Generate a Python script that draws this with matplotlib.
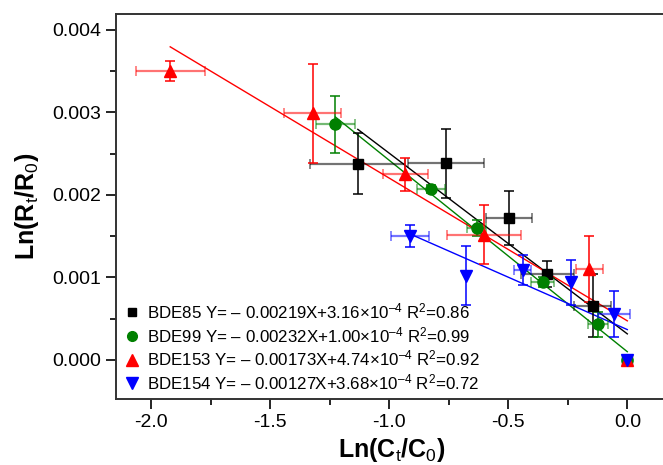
import numpy as np
import matplotlib
matplotlib.use('Agg')
import matplotlib.pyplot as plt
from matplotlib.lines import Line2D
from matplotlib.ticker import MultipleLocator

plt.rcParams['font.family'] = ['Liberation Sans', 'DejaVu Sans']
plt.rcParams['mathtext.fontset'] = 'custom'
plt.rcParams['mathtext.rm'] = 'Liberation Sans'
plt.rcParams['mathtext.it'] = 'Liberation Sans'
plt.rcParams['mathtext.bf'] = 'Liberation Sans:bold'

# data
names = ['BDE85', 'BDE99', 'BDE153', 'BDE154']
slopes = [0.00219, 0.00232, 0.00173, 0.00127]
intercepts = [3.16e-4, 1.00e-4, 4.74e-4, 3.68e-4]
r2 = [0.86, 0.99, 0.92, 0.72]

x85 = [-1.132, -0.761, -0.497, -0.336, -0.145, 0.0]
y85 = [0.00238, 0.002385, 0.00172, 0.00104, 0.000656, 0.0]
xe85 = [0.2, 0.16, 0.095, 0.11, 0.078, 0.0]
ye85 = [0.00037, 0.00042, 0.00033, 0.00016, 0.00038, 0.0]

x99 = [-1.226, -0.824, -0.633, -0.356, -0.125, 0.0]
y99 = [0.002855, 0.00207, 0.0016, 0.00094, 0.000434, 0.0]
xe99 = [0.083, 0.058, 0.04, 0.05, 0.042, 0.0]
ye99 = [0.00035, 0.00005, 0.0001, 0.00006, 0.00015, 0.0]

x153 = [-1.92, -1.322, -0.932, -0.602, -0.159, 0.0]
y153 = [0.0035, 0.00299, 0.00225, 0.00152, 0.0011, 0.0]
xe153 = [0.145, 0.12, 0.095, 0.155, 0.055, 0.0]
ye153 = [0.00012, 0.0006, 0.0002, 0.00036, 0.0004, 0.0]

x154 = [-0.914, -0.676, -0.44, -0.236, -0.056, 0.0]
y154 = [0.0015, 0.00102, 0.00109, 0.00094, 0.00056, 0.0]
xe154 = [0.08, 0.0, 0.035, 0.0, 0.066, 0.0]
ye154 = [0.00013, 0.00036, 0.00018, 0.00027, 0.00028, 0.0]

xs = [x85, x99, x153, x154]
ys = [y85, y99, y153, y154]
xes = [xe85, xe99, xe153, xe154]
yes = [ye85, ye99, ye153, ye154]
colors = ['black', '#008000', '#ff0000', '#0000ff']
markers = ['s', 'o', '^', 'v']
msizes = [7, 8, 9, 9]

fig = plt.figure(figsize=(6.63, 4.65), dpi=100)
ax = fig.add_axes([0.1745, 0.142, 0.832, 0.828])

handles = []
for i in range(4):
    c = colors[i]
    # fit line over data range
    xl = np.array([min(xs[i]), 0.0])
    ax.plot(xl, -slopes[i] * xl + intercepts[i], color=c, lw=1, zorder=2)
    # x error bars lighter, y error bars solid
    ax.errorbar(xs[i], ys[i], xerr=xes[i], fmt='none', ecolor=c, elinewidth=1.6,
                capsize=3.5, capthick=1.2, alpha=0.55, zorder=3 + i)
    ax.errorbar(xs[i], ys[i], yerr=yes[i], fmt='none', ecolor=c, elinewidth=1.1,
                capsize=3.5, capthick=1.1, zorder=3 + i)
    ax.plot(xs[i], ys[i], ls='none', marker=markers[i], ms=msizes[i], color=c,
            zorder=10 + i)
    lab = (names[i] + ' Y= \u2013 %.5fX+%.2f\u00d710$^{\u2013 4}$ R$^2$=%.2f'
           % (slopes[i], intercepts[i] * 1e4, r2[i]))
    handles.append(Line2D([], [], ls='none', marker=markers[i], color=c,
                          ms=msizes[i] - 1, label=lab))

ax.legend(handles=handles, loc='lower left', frameon=False, fontsize=12.2,
          handletextpad=0.35, labelspacing=0.22, borderaxespad=0.2,
          bbox_to_anchor=(0.0, 0.0), handlelength=1.1, borderpad=0.2)

ax.set_xlim(-2.149, 0.168)
ax.set_ylim(-0.000473, 0.004194)
ax.xaxis.set_major_locator(MultipleLocator(0.5))
ax.xaxis.set_minor_locator(MultipleLocator(0.25))
ax.yaxis.set_major_locator(MultipleLocator(0.001))
ax.yaxis.set_minor_locator(MultipleLocator(0.0005))
ax.xaxis.set_major_formatter(plt.FuncFormatter(lambda v, p: '%.1f' % v))
ax.yaxis.set_major_formatter(plt.FuncFormatter(lambda v, p: '%.3f' % v))
ax.tick_params(which='major', direction='out', length=7, width=1.2, labelsize=14)
ax.tick_params(which='minor', direction='out', length=4, width=1.2)
for s in ax.spines.values():
    s.set_linewidth(1.4)
    s.set_color('#333333')

ax.set_xlabel('Ln(C$_t$/C$_0$)', fontsize=18, fontweight='bold', labelpad=4)
ax.set_ylabel('Ln(R$_t$/R$_0$)', fontsize=18, fontweight='bold', labelpad=8)

fig.savefig('out.png', dpi=100)
